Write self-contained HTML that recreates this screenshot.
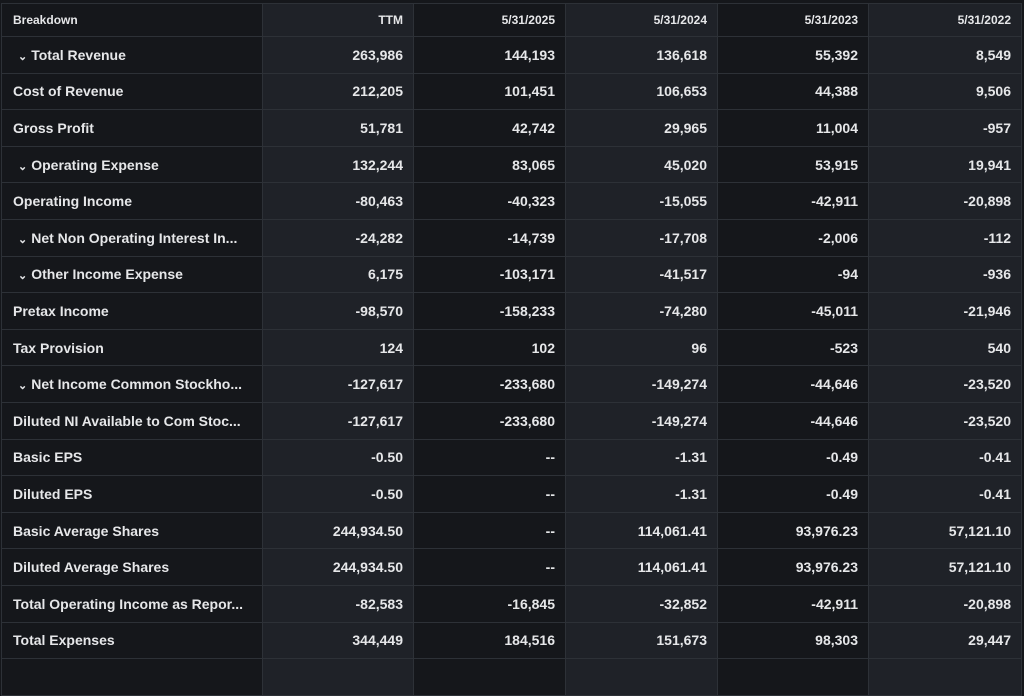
<!DOCTYPE html>
<html><head><style>
body{margin:0;width:1024px;height:666px;background:#15171b;overflow:hidden;font-family:"Liberation Sans",Arial,sans-serif;}
table{position:absolute;left:1px;top:3px;border-collapse:collapse;table-layout:fixed;}
td{border:1px solid #2d3137;height:36.6px;padding:0 10px 0 11px;color:#e6e7e9;font-size:14px;font-weight:600;text-align:right;white-space:nowrap;overflow:hidden;box-sizing:border-box;}
tr.h td{height:33px;font-size:12px;font-weight:700;}
td:nth-child(1){text-align:left;background:#15171b;}
td:nth-child(2),td:nth-child(4),td:nth-child(6){background:#1f2228;}
td:nth-child(3),td:nth-child(5){background:#15171b;}
.c{font-size:11px;padding:0 4px 0 5px;}
</style></head><body>
<table>
<colgroup><col style="width:261px"><col style="width:151px"><col style="width:152px"><col style="width:152px"><col style="width:151px"><col style="width:153px"></colgroup>
<tr class="h"><td>Breakdown</td><td>TTM</td><td>5/31/2025</td><td>5/31/2024</td><td>5/31/2023</td><td>5/31/2022</td></tr>
<tr><td><span class="c">&#8964;</span>Total Revenue</td><td>263,986</td><td>144,193</td><td>136,618</td><td>55,392</td><td>8,549</td></tr>
<tr><td>Cost of Revenue</td><td>212,205</td><td>101,451</td><td>106,653</td><td>44,388</td><td>9,506</td></tr>
<tr><td>Gross Profit</td><td>51,781</td><td>42,742</td><td>29,965</td><td>11,004</td><td>-957</td></tr>
<tr><td><span class="c">&#8964;</span>Operating Expense</td><td>132,244</td><td>83,065</td><td>45,020</td><td>53,915</td><td>19,941</td></tr>
<tr><td>Operating Income</td><td>-80,463</td><td>-40,323</td><td>-15,055</td><td>-42,911</td><td>-20,898</td></tr>
<tr><td><span class="c">&#8964;</span>Net Non Operating Interest In...</td><td>-24,282</td><td>-14,739</td><td>-17,708</td><td>-2,006</td><td>-112</td></tr>
<tr><td><span class="c">&#8964;</span>Other Income Expense</td><td>6,175</td><td>-103,171</td><td>-41,517</td><td>-94</td><td>-936</td></tr>
<tr><td>Pretax Income</td><td>-98,570</td><td>-158,233</td><td>-74,280</td><td>-45,011</td><td>-21,946</td></tr>
<tr><td>Tax Provision</td><td>124</td><td>102</td><td>96</td><td>-523</td><td>540</td></tr>
<tr><td><span class="c">&#8964;</span>Net Income Common Stockho...</td><td>-127,617</td><td>-233,680</td><td>-149,274</td><td>-44,646</td><td>-23,520</td></tr>
<tr><td>Diluted NI Available to Com Stoc...</td><td>-127,617</td><td>-233,680</td><td>-149,274</td><td>-44,646</td><td>-23,520</td></tr>
<tr><td>Basic EPS</td><td>-0.50</td><td>--</td><td>-1.31</td><td>-0.49</td><td>-0.41</td></tr>
<tr><td>Diluted EPS</td><td>-0.50</td><td>--</td><td>-1.31</td><td>-0.49</td><td>-0.41</td></tr>
<tr><td>Basic Average Shares</td><td>244,934.50</td><td>--</td><td>114,061.41</td><td>93,976.23</td><td>57,121.10</td></tr>
<tr><td>Diluted Average Shares</td><td>244,934.50</td><td>--</td><td>114,061.41</td><td>93,976.23</td><td>57,121.10</td></tr>
<tr><td>Total Operating Income as Repor...</td><td>-82,583</td><td>-16,845</td><td>-32,852</td><td>-42,911</td><td>-20,898</td></tr>
<tr><td>Total Expenses</td><td>344,449</td><td>184,516</td><td>151,673</td><td>98,303</td><td>29,447</td></tr>
<tr><td></td><td></td><td></td><td></td><td></td><td></td></tr>
</table>
</body></html>
